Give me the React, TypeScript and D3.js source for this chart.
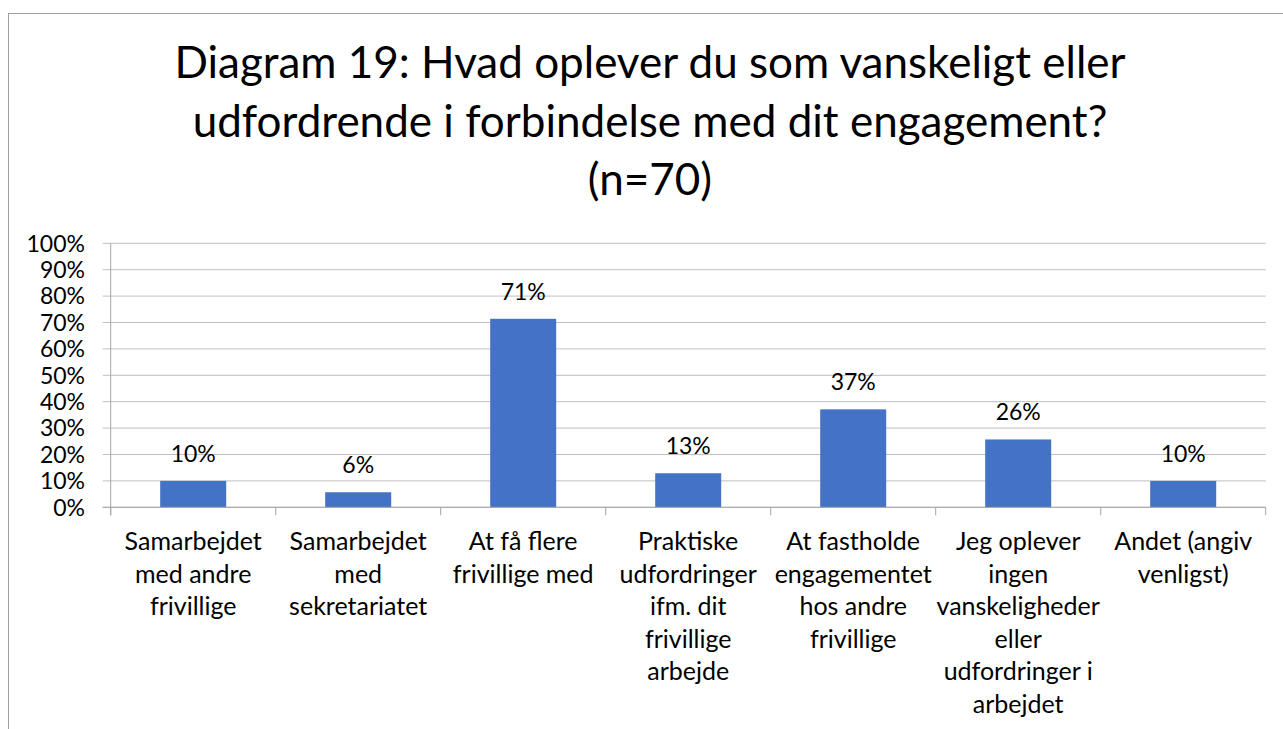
import React from 'react'
import * as d3 from 'd3'

const titleLines = [
  'Diagram 19: Hvad oplever du som vanskeligt eller',
  'udfordrende i forbindelse med dit engagement?',
  '(n=70)',
]

const categories = [
  ['Samarbejdet', 'med andre', 'frivillige'],
  ['Samarbejdet', 'med', 'sekretariatet'],
  ['At få flere', 'frivillige med'],
  ['Praktiske', 'udfordringer', 'ifm. dit', 'frivillige', 'arbejde'],
  ['At fastholde', 'engagementet', 'hos andre', 'frivillige'],
  ['Jeg oplever', 'ingen', 'vanskeligheder', 'eller', 'udfordringer i', 'arbejdet'],
  ['Andet (angiv', 'venligst)'],
]

const values = [0.1, 0.057, 0.714, 0.129, 0.371, 0.257, 0.1]

const yTicks = [0, 0.1, 0.2, 0.3, 0.4, 0.5, 0.6, 0.7, 0.8, 0.9, 1]

const W = 1283
const H = 729
const plot = { left: 110.7, right: 1265.7, top: 243.3, bottom: 507.3 }
const font = 'Lato, "Open Sans", sans-serif'

const App = () => {
  const ids = categories.map((_, i) => String(i))
  const x = d3.scaleBand<string>().domain(ids).range([plot.left, plot.right]).paddingInner(0.6).paddingOuter(0.3)
  const xEdge = d3.scaleLinear().domain([0, categories.length]).range([plot.left, plot.right])
  const y = d3.scaleLinear().domain([0, 1]).range([plot.bottom, plot.top])
  const pct = d3.format('.0%')

  return (
    <svg width={W} height={H} style={{ position: 'absolute', left: 0, top: 0 }}>
      <rect x={0} y={0} width={W} height={H} fill="#fff" />
      <rect x={8.5} y={13.5} width={1290} height={740} fill="#fff" stroke="#a0a0a0" strokeWidth={1} />

      <g fontFamily={font} fontSize={44} fill="#000" textAnchor="middle">
        {titleLines.map((t, i) => (
          <text key={i} x={650} y={78 + i * 58.5}>{t}</text>
        ))}
      </g>

      {/* gridlines with left ticks */}
      {yTicks.map(t => (
        <line key={t} x1={plot.left - 8} x2={plot.right} y1={y(t)} y2={y(t)} stroke="#bfbfbf" strokeWidth={1} />
      ))}

      {/* bars */}
      {values.map((v, i) => (
        <rect key={i} x={x(String(i))} y={y(v)} width={x.bandwidth()} height={y(0) - y(v)} fill="#4472C4" />
      ))}

      {/* axes */}
      <line x1={plot.left} x2={plot.left} y1={plot.top} y2={plot.bottom + 8} stroke="#a6a6a6" />
      <line x1={plot.left - 8} x2={plot.right} y1={plot.bottom} y2={plot.bottom} stroke="#a6a6a6" />
      {d3.range(categories.length + 1).map(k => (
        <line key={k} x1={xEdge(k)} x2={xEdge(k)} y1={plot.bottom} y2={plot.bottom + 8} stroke="#a6a6a6" />
      ))}

      {/* y tick labels */}
      <g fontFamily={font} fontSize={23} fill="#000" textAnchor="end">
        {yTicks.map(t => (
          <text key={t} x={85} y={y(t)} dy="0.36em">{pct(t)}</text>
        ))}
      </g>

      {/* data labels */}
      <g fontFamily={font} fontSize={23} fill="#000" textAnchor="middle">
        {values.map((v, i) => (
          <text key={i} x={x(String(i))! + x.bandwidth() / 2} y={y(v) - 19}>{pct(v)}</text>
        ))}
      </g>

      {/* category labels */}
      <g fontFamily={font} fontSize={25} fill="#000" textAnchor="middle">
        {categories.map((lines, i) => (
          <text key={i} x={x(String(i))! + x.bandwidth() / 2} y={550}>
            {lines.map((l, j) => (
              <tspan key={j} x={x(String(i))! + x.bandwidth() / 2} dy={j === 0 ? 0 : 32.5}>{l}</tspan>
            ))}
          </text>
        ))}
      </g>
    </svg>
  )
}

export default App
